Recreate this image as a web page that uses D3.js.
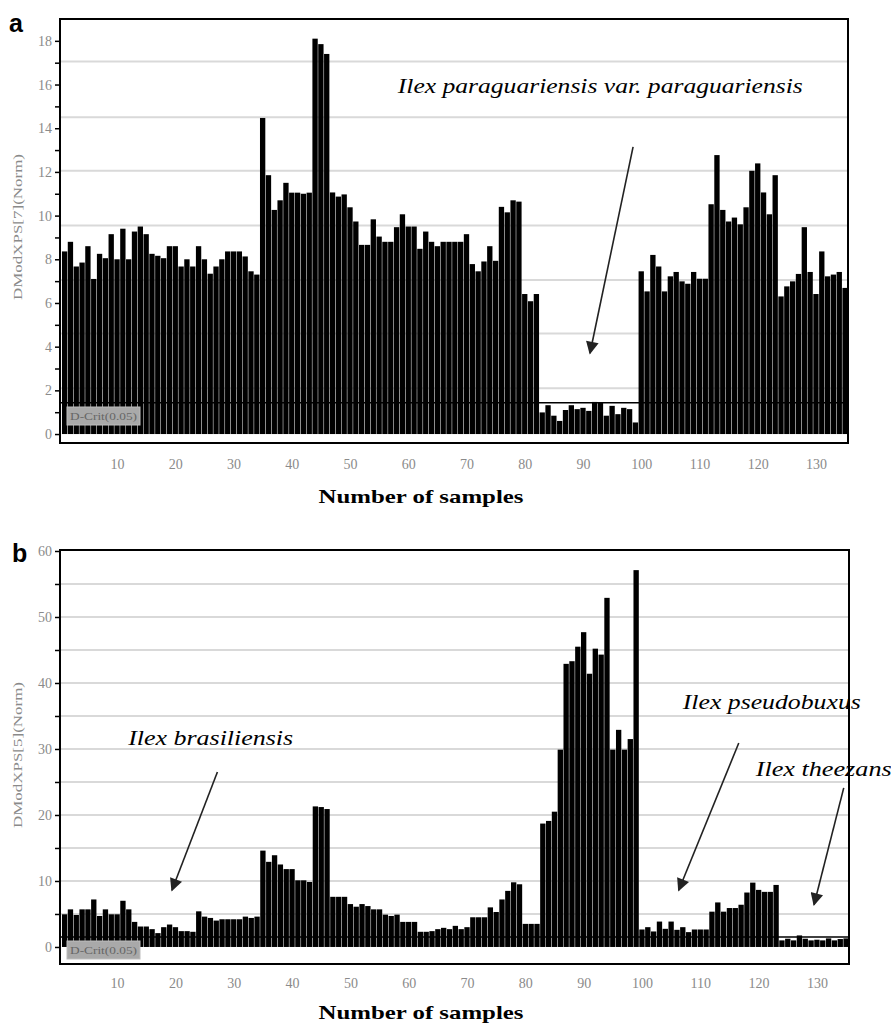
<!DOCTYPE html>
<html>
<head>
<meta charset="utf-8">
<script src="https://cdn.jsdelivr.net/npm/d3@7"></script>
<style>
  body { margin: 0; background: #fff; }
  svg { display: block; }
</style>
</head>
<body>
<div id="chart"></div>
<script>
// DModXPS[7] values, samples 1..135 (panel a)
const valuesA = [
  8.36, 8.8, 7.67, 7.85, 8.6, 7.1, 8.25, 8.05, 9.15, 8.0,
  9.4, 8.0, 9.27, 9.5, 9.15, 8.25, 8.16, 8.05, 8.6, 8.6,
  7.67, 8.0, 7.67, 8.6, 8.0, 7.34, 7.67, 8.0, 8.36, 8.36,
  8.36, 8.13, 7.45, 7.3, 14.47, 11.85, 10.26, 10.7, 11.5, 11.05,
  11.05, 11.0, 11.05, 18.1, 17.85, 17.4, 11.06, 10.87, 10.97, 10.38,
  9.73, 8.66, 8.66, 9.83, 9.04, 8.8, 8.8, 9.47, 10.06, 9.5,
  9.5, 8.48, 9.27, 8.8, 8.6, 8.8, 8.8, 8.8, 8.8, 9.15,
  7.78, 7.45, 7.9, 8.6, 7.93, 10.4, 10.15, 10.7, 10.64, 6.41,
  6.08, 6.41, 0.99, 1.32, 0.84, 0.6, 1.1, 1.32, 1.14, 1.2,
  1.06, 1.47, 1.44, 0.84, 1.29, 0.91, 1.2, 1.14, 0.53,
  7.45, 6.53, 8.2, 7.67, 6.53, 7.22, 7.42, 6.99, 6.88, 7.42,
  7.11, 7.11, 10.52, 12.77, 10.26, 9.73, 9.91, 9.6, 10.38, 12.05,
  12.39, 11.06, 10.06, 11.85, 6.3, 6.76, 6.99, 7.33, 9.47, 7.42,
  6.41, 8.36, 7.22, 7.3, 7.42, 6.69
];

// DModXPS[5] values, samples 1..135 (panel b)
const valuesB = [
  4.95, 5.7, 4.85, 5.7, 5.7, 7.2, 4.7, 5.7, 4.95, 4.95,
  7.0, 5.7, 3.8, 3.1, 3.1, 2.7, 2.1, 3.0, 3.4, 3.0,
  2.4, 2.4, 2.3, 5.4, 4.6, 4.4, 4.0, 4.2, 4.2, 4.2,
  4.2, 4.6, 4.4, 4.6, 14.6, 12.9, 13.9, 12.5, 11.8, 11.8,
  10.1, 10.1, 9.85, 21.3, 21.2, 20.9, 7.6, 7.6, 7.6, 6.5,
  6.1, 6.5, 6.2, 5.7, 5.7, 4.9, 4.7, 4.9, 3.8, 3.8,
  3.8, 2.3, 2.3, 2.4, 2.7, 2.9, 2.7, 3.2, 2.7, 3.0,
  4.5, 4.5, 4.5, 6.0, 5.3, 7.2, 8.5, 9.8, 9.5, 3.5,
  3.5, 3.5, 18.7, 19.1, 20.5, 29.9, 42.9, 43.3, 45.5, 47.7,
  41.4, 45.2, 44.3, 52.9, 29.9, 32.9, 29.9, 31.5, 57.1,
  2.65, 3.0, 2.35, 3.85, 2.75, 3.85, 2.6, 3.0, 2.25, 2.65,
  2.65, 2.65, 5.35, 6.75, 5.35, 5.9, 5.9, 6.4, 8.25, 9.75,
  8.65, 8.35, 8.35, 9.4, 1.0, 1.25, 1.0, 1.75, 1.25, 1.0,
  1.1, 1.0, 1.3, 1.0, 1.2, 1.3
];

const xTickLabels = [10, 20, 30, 40, 50, 60, 70, 80, 90, 100, 110, 120, 130];

const yTicksA = [0, 1, 2, 3, 4, 5, 6, 7, 8, 9, 10, 11, 12, 13, 14, 15, 16, 17, 18];
const yLabelsA = [0, 2, 4, 6, 8, 10, 12, 14, 16, 18];
const gridA = [2.1, 4.6, 7.05, 9.55, 12.05, 14.5, 17.05];
const dCritA = 1.43;

const yTicksB = [0, 5, 10, 15, 20, 25, 30, 35, 40, 45, 50, 55, 60];
const yLabelsB = [0, 10, 20, 30, 40, 50, 60];
const gridB = [5, 10, 15, 20, 25, 30, 35, 40, 45, 50, 55];
const dCritB = 1.5;

// annotation text and arrows, in data units (sample, value)
const notesA = [
  { text: 'Ilex paraguariensis var. paraguariensis', s: 58.2, v: 15.6, len: 405,
    from: [98.6, 13.15], to: [91.2, 3.7] }
];
const notesB = [
  { text: 'Ilex brasiliensis', s: 11.9, v: 30.6, len: 165, from: [27.2, 26.5], to: [19.4, 8.6] },
  { text: 'Ilex pseudobuxus', s: 107.0, v: 36.1, len: 178, from: [116.6, 30.9], to: [106.3, 8.6] },
  { text: 'Ilex theezans', s: 119.5, v: 25.9, len: 136, from: [134.6, 24.1], to: [129.5, 6.4] }
];

const serif = '"Liberation Serif", "DejaVu Serif", serif';
const tickGray = '#8a8a8a';

const svg = d3.select('#chart')
  .append('svg')
  .attr('width', 891)
  .attr('height', 1028);

// Arrow head
svg.append('defs').append('marker')
  .attr('id', 'head')
  .attr('viewBox', '0 0 10 10')
  .attr('refX', 9).attr('refY', 5)
  .attr('markerWidth', 9).attr('markerHeight', 8)
  .attr('markerUnits', 'strokeWidth')
  .attr('orient', 'auto')
  .append('path')
  .attr('d', 'M0,0 L10,5 L0,10 Z')
  .attr('fill', '#222');

const drawPanel = (p) => {
  const g = svg.append('g');

  const x = d3.scaleLinear()
    .domain([0.5, p.values.length + 0.5])
    .range([p.left + 1.7, p.right]);

  const y = d3.scaleLinear()
    .domain(p.yDomain)
    .range([p.bottom, p.top]);

  // Gridlines
  g.selectAll('.grid')
    .data(p.grid)
    .enter()
    .append('line')
    .attr('x1', p.left).attr('x2', p.right)
    .attr('y1', d => y(d)).attr('y2', d => y(d))
    .attr('stroke', '#d9d9d9')
    .attr('stroke-width', 2);

  // Bars
  g.selectAll('.bar')
    .data(p.values)
    .enter()
    .append('rect')
    .attr('x', (d, i) => x(i + 0.5) + 0.25)
    .attr('width', (d, i) => x(i + 1.5) - x(i + 0.5) - 0.5)
    .attr('y', d => y(d))
    .attr('height', d => y(0) - y(d))
    .attr('fill', '#000');

  // D-Crit line
  g.append('line')
    .attr('x1', p.left).attr('x2', p.right)
    .attr('y1', y(p.dCrit)).attr('y2', y(p.dCrit))
    .attr('stroke', '#000')
    .attr('stroke-width', 1.5);

  // Frame
  g.append('rect')
    .attr('x', p.left).attr('y', p.top)
    .attr('width', p.right - p.left)
    .attr('height', p.bottom - p.top)
    .attr('fill', 'none')
    .attr('stroke', '#000')
    .attr('stroke-width', 2);

  // Y axis
  g.append('g')
    .attr('transform', `translate(${p.left - 1},0)`)
    .call(d3.axisLeft(y)
      .tickValues(p.yTicks)
      .tickSize(4)
      .tickPadding(3)
      .tickFormat(d => p.yLabels.includes(d) ? d : ''))
    .call(a => a.select('.domain').remove())
    .call(a => a.selectAll('line').attr('stroke', '#000').attr('stroke-width', 1.5))
    .call(a => a.selectAll('text')
      .attr('fill', tickGray)
      .attr('font-family', serif)
      .attr('font-size', 14));

  // X axis labels
  g.append('g')
    .attr('transform', `translate(0,${p.bottom})`)
    .call(d3.axisBottom(x)
      .tickValues(xTickLabels)
      .tickSize(0)
      .tickPadding(p.xPad))
    .call(a => a.select('.domain').remove())
    .call(a => a.selectAll('text')
      .attr('fill', tickGray)
      .attr('font-family', serif)
      .attr('font-size', 14));

  // Y title
  g.append('text')
    .attr('transform', `translate(${p.yTitleX},${p.yTitleY}) rotate(-90)`)
    .attr('text-anchor', 'middle')
    .attr('font-family', serif)
    .attr('font-size', 13)
    .attr('fill', tickGray)
    .attr('textLength', 146)
    .attr('lengthAdjust', 'spacingAndGlyphs')
    .text(p.yTitle);

  // X title
  g.append('text')
    .attr('x', p.xTitleX)
    .attr('y', p.xTitleY)
    .attr('text-anchor', 'middle')
    .attr('font-family', serif)
    .attr('font-weight', 'bold')
    .attr('font-size', 19)
    .attr('fill', '#000')
    .attr('textLength', 205)
    .attr('lengthAdjust', 'spacingAndGlyphs')
    .text('Number of samples');

  // D-Crit label box
  g.append('rect')
    .attr('x', p.left + 7).attr('y', p.boxY)
    .attr('width', 73).attr('height', 18)
    .attr('fill', '#a9a9a9')
    .attr('stroke', '#bdbdbd');

  g.append('text')
    .attr('x', p.left + 10).attr('y', p.boxY + 13)
    .attr('font-family', serif)
    .attr('font-size', 11)
    .attr('fill', '#666')
    .attr('textLength', 67)
    .attr('lengthAdjust', 'spacingAndGlyphs')
    .text('D-Crit(0.05)');

  // Annotations
  p.notes.forEach(n => {
    g.append('text')
      .attr('x', x(n.s))
      .attr('y', y(n.v))
      .attr('font-family', serif)
      .attr('font-style', 'italic')
      .attr('font-size', 21)
      .attr('fill', '#000')
      .attr('textLength', n.len)
      .attr('lengthAdjust', 'spacingAndGlyphs')
      .text(n.text);

    g.append('line')
      .attr('x1', x(n.from[0])).attr('y1', y(n.from[1]))
      .attr('x2', x(n.to[0])).attr('y2', y(n.to[1]))
      .attr('stroke', '#222')
      .attr('stroke-width', 1.6)
      .attr('marker-end', 'url(#head)');
  });

  // Panel letter
  svg.append('text')
    .attr('x', p.letterX).attr('y', p.letterY)
    .attr('font-family', '"Liberation Sans", Arial, sans-serif')
    .attr('font-weight', 'bold')
    .attr('font-size', 25)
    .attr('fill', '#000')
    .text(p.letter);
};

drawPanel({
  values: valuesA, yDomain: [-0.41, 19.0], yTicks: yTicksA, yLabels: yLabelsA,
  grid: gridA, dCrit: dCritA, notes: notesA,
  left: 60, right: 848, top: 19, bottom: 443, xPad: 16,
  yTitle: 'DModXPS[7](Norm)', yTitleX: 22, yTitleY: 227,
  xTitleX: 421, xTitleY: 503, boxY: 407,
  letter: 'a', letterX: 9, letterY: 32
});

drawPanel({
  values: valuesB, yDomain: [-2.58, 60.15], yTicks: yTicksB, yLabels: yLabelsB,
  grid: gridB, dCrit: dCritB, notes: notesB,
  left: 60, right: 849, top: 550, bottom: 964, xPad: 14,
  yTitle: 'DModXPS[5](Norm)', yTitleX: 22, yTitleY: 755,
  xTitleX: 421, xTitleY: 1019, boxY: 941,
  letter: 'b', letterX: 12, letterY: 562
});
</script>
</body>
</html>
